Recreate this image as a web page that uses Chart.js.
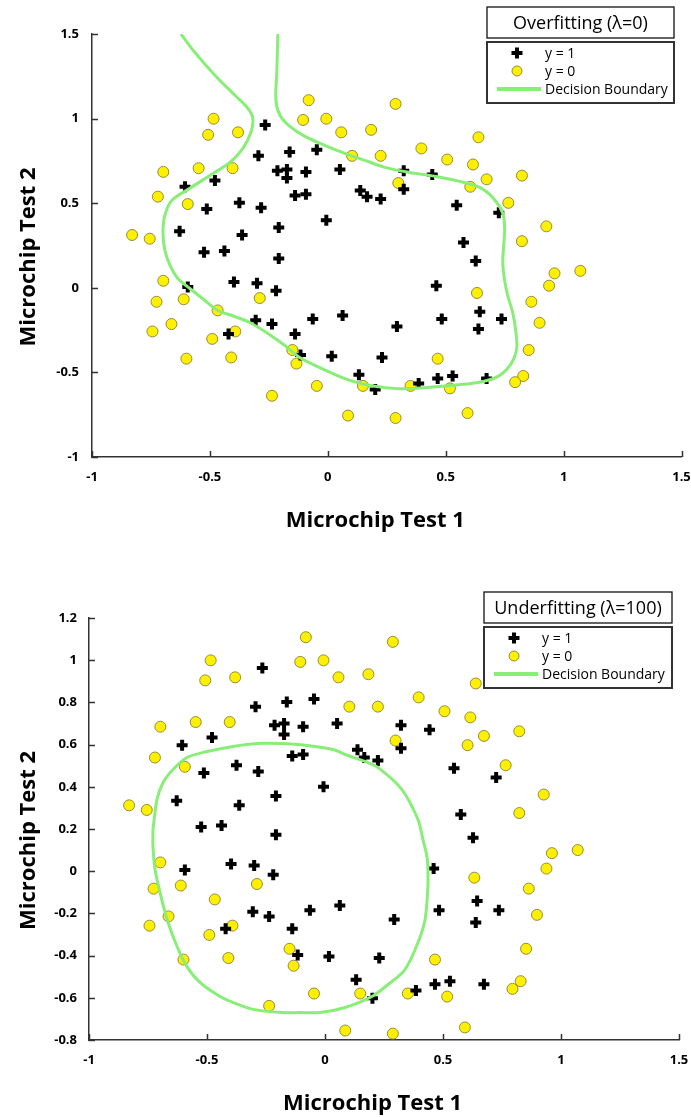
<!DOCTYPE html>
<html>
<head>
<meta charset="utf-8">
<script src="https://cdn.jsdelivr.net/npm/chart.js@4.4.1/dist/chart.umd.min.js"></script>
<style>
  html, body { margin: 0; padding: 0; background: #fff; overflow: hidden; }
  #c1wrap { position: absolute; left: 0; top: 0; width: 691px; height: 560px; }
  #c2wrap { position: absolute; left: 0; top: 560px; width: 691px; height: 557px; }
</style>
</head>
<body>
<div id="c1wrap"><canvas id="c1"></canvas></div>
<div id="c2wrap"><canvas id="c2"></canvas></div>
<script>
// ---------------- DATA ----------------
const POS_X = [0.051267,-0.092742,-0.21371,-0.375,-0.51325,-0.52477,-0.39804,-0.30588,0.016705,0.13191,0.38537,0.52938,0.63882,0.73675,0.54666,0.322,0.16647,-0.046659,-0.17339,-0.47869,-0.60541,-0.62846,-0.59389,-0.42108,-0.11578,0.20104,0.46601,0.67339,-0.13882,-0.29435,-0.26555,-0.16187,-0.17339,-0.28283,-0.36348,-0.30012,-0.23675,-0.06394,0.062788,0.22984,0.2932,0.48329,0.64459,0.46025,0.6273,0.57546,0.72523,0.22408,0.44297,0.322,0.13767,-0.0063364,-0.092742,-0.20795,-0.20795,-0.43836,-0.21947,-0.13882];
const POS_Y = [0.69956,0.68494,0.69225,0.50219,0.46564,0.2098,0.034357,-0.19225,-0.40424,-0.51389,-0.56506,-0.5212,-0.24342,-0.18494,0.48757,0.5826,0.53874,0.81652,0.69956,0.63377,0.59722,0.33406,0.005117,-0.27266,-0.39693,-0.60161,-0.53582,-0.53582,0.54605,0.77997,0.96272,0.8019,0.64839,0.47295,0.31213,0.027047,-0.21418,-0.18494,-0.16301,-0.41155,-0.2288,-0.18494,-0.14108,0.012427,0.15863,0.26827,0.44371,0.52412,0.67032,0.69225,0.57529,0.39985,0.55336,0.35599,0.17325,0.21711,-0.016813,-0.27266];
const NEG_X = [0.18376,0.22408,0.29896,0.50634,0.61578,0.60426,0.76555,0.92684,0.82316,0.96141,0.93836,0.86348,0.89804,0.85196,0.82892,0.79435,0.59274,0.51786,0.46601,0.35081,0.28744,0.085829,0.14919,-0.13306,-0.40956,-0.39228,-0.74366,-0.69758,-0.75518,-0.69758,-0.4038,-0.38076,-0.50749,-0.54781,0.10311,0.057028,-0.10484,-0.081221,0.28744,0.39689,0.63882,0.82316,0.67339,1.0709,-0.046659,-0.23675,-0.15035,-0.49021,-0.46717,-0.28859,-0.61118,-0.66302,-0.59965,-0.72638,-0.83007,-0.72062,-0.59389,-0.48445,-0.0063364,0.63265];
const NEG_Y = [0.93348,0.77997,0.61915,0.75804,0.7288,0.59722,0.50219,0.3633,0.27558,0.085526,0.012427,-0.082602,-0.20687,-0.36769,-0.5212,-0.55775,-0.7405,-0.5943,-0.41886,-0.57968,-0.76974,-0.75512,-0.57968,-0.4481,-0.41155,-0.25804,-0.25804,0.041667,0.2902,0.68494,0.70687,0.91886,0.90424,0.70687,0.77997,0.91886,0.99196,1.1089,1.087,0.82383,0.88962,0.66301,0.64108,0.10015,-0.57968,-0.63816,-0.36769,-0.3019,-0.13377,-0.060673,-0.067982,-0.21418,-0.41886,-0.082602,0.31213,0.53874,0.49488,0.99927,0.99927,-0.030612];

// Decision boundary, overfitting (lambda = 0)
const B1_X = [-0.623,-0.564,-0.479,-0.394,-0.339,-0.318,-0.326,-0.360,-0.415,-0.500,-0.585,-0.661,-0.691,-0.699,-0.691,-0.669,-0.636,-0.585,-0.521,-0.466,-0.394,-0.331,-0.254,-0.182,-0.119,-0.034,0.072,0.157,0.242,0.305,0.411,0.517,0.636,0.720,0.775,0.801,0.797,0.784,0.763,0.750,0.742,0.746,0.750,0.742,0.703,0.644,0.559,0.453,0.347,0.242,0.157,0.072,-0.013,-0.097,-0.161,-0.203,-0.220,-0.216,-0.212];
const B1_Y = [1.5,1.392,1.256,1.138,1.061,1.002,0.919,0.824,0.741,0.664,0.588,0.517,0.428,0.327,0.221,0.132,0.055,-0.004,-0.075,-0.134,-0.170,-0.205,-0.270,-0.341,-0.412,-0.472,-0.537,-0.572,-0.590,-0.596,-0.590,-0.578,-0.560,-0.525,-0.454,-0.359,-0.253,-0.146,-0.046,0.043,0.150,0.250,0.351,0.440,0.528,0.593,0.629,0.659,0.682,0.712,0.753,0.795,0.842,0.895,0.954,1.020,1.108,1.286,1.5];

// Decision boundary, underfitting (lambda = 100)
const B2_X = [-0.729,-0.712,-0.686,-0.644,-0.585,-0.500,-0.390,-0.288,-0.191,-0.076,0.034,0.085,0.169,0.225,0.326,0.394,0.415,0.432,0.436,0.436,0.424,0.394,0.339,0.267,0.199,0.085,-0.021,-0.106,-0.182,-0.305,-0.390,-0.445,-0.530,-0.585,-0.627,-0.669,-0.699,-0.720,-0.729,-0.729];
const B2_Y = [0.198,0.340,0.420,0.482,0.539,0.567,0.591,0.605,0.605,0.596,0.577,0.553,0.520,0.491,0.387,0.245,0.150,0.070,0.008,-0.073,-0.229,-0.338,-0.466,-0.537,-0.594,-0.646,-0.670,-0.670,-0.670,-0.655,-0.622,-0.594,-0.527,-0.452,-0.357,-0.229,-0.101,0.008,0.117,0.198];

const X_TICKS = [-1, -0.5, 0, 0.5, 1, 1.5];
const Y1_TICKS = [-1, -0.5, 0, 0.5, 1, 1.5];
const Y2_TICKS = [-0.8, -0.6, -0.4, -0.2, 0, 0.2, 0.4, 0.6, 0.8, 1, 1.2];

const X_TITLE = 'Microchip Test 1';
const Y_TITLE = 'Microchip Test 2';
const TITLE1 = 'Overfitting (λ=0)';
const TITLE2 = 'Underfitting (λ=100)';
const LEGEND_LABELS = ['y = 1', 'y = 0', 'Decision Boundary'];

// ---------------- STYLE ----------------
const GREEN = '#88EE77';
const YELLOW = '#FFF000';
const YELLOW_EDGE = '#938C3A';
const AXIS = '#333333';
const FONT = "'Open Sans', 'DejaVu Sans', sans-serif";
const TITLE_SHIFT = '    '; // nudges axis titles toward the origin, as in the reference

const zip = (xs, ys) => xs.map((x, i) => ({ x: x, y: ys[i] }));

function drawCross(ctx, x, y, r, w) {
  ctx.save();
  ctx.strokeStyle = '#000';
  ctx.lineWidth = w;
  ctx.beginPath();
  ctx.moveTo(x - r, y); ctx.lineTo(x + r, y);
  ctx.moveTo(x, y - r); ctx.lineTo(x, y + r);
  ctx.stroke();
  ctx.restore();
}

function decorPlugin(cfg) {
  return {
    id: 'decor',
    afterDraw(chart) {
      const ctx = chart.ctx;
      const xs = chart.scales.x, ys = chart.scales.y;
      // inward tick marks
      ctx.save();
      ctx.strokeStyle = AXIS;
      ctx.lineWidth = 1.5;
      ctx.beginPath();
      xs.ticks.forEach(t => {
        const px = Math.round(xs.getPixelForValue(t.value)) + 0.5;
        ctx.moveTo(px, xs.top); ctx.lineTo(px, xs.top - 6);
      });
      ys.ticks.forEach(t => {
        const py = Math.round(ys.getPixelForValue(t.value)) + 0.5;
        ctx.moveTo(ys.right, py); ctx.lineTo(ys.right + 6, py);
      });
      ctx.stroke();
      ctx.restore();

      // title box
      const L = cfg.legend;
      ctx.save();
      ctx.strokeStyle = '#111';
      ctx.lineWidth = 1.3;
      ctx.strokeRect(L.x, L.titleTop, L.w, L.titleH);
      ctx.fillStyle = '#000';
      ctx.font = "18px " + FONT;
      ctx.textAlign = 'center';
      ctx.textBaseline = 'middle';
      ctx.fillText(cfg.title, L.x + L.w / 2, L.titleTop + L.titleH / 2 + 1);

      // legend box
      ctx.strokeStyle = '#333';
      ctx.lineWidth = 2;
      ctx.strokeRect(L.x, L.boxTop, L.w, L.boxH);
      ctx.font = "14px " + FONT;
      ctx.textAlign = 'left';
      const mx = L.x + 30, tx = L.x + 58;
      const rows = [L.boxTop + 11, L.boxTop + 29, L.boxTop + 47];
      drawCross(ctx, mx, rows[0], 5.5, 4);
      ctx.beginPath();
      ctx.arc(mx, rows[1], 5, 0, Math.PI * 2);
      ctx.fillStyle = YELLOW; ctx.fill();
      ctx.strokeStyle = YELLOW_EDGE; ctx.lineWidth = 1; ctx.stroke();
      ctx.strokeStyle = GREEN; ctx.lineWidth = 4;
      ctx.beginPath();
      ctx.moveTo(L.x + 10, rows[2]); ctx.lineTo(L.x + 54, rows[2]);
      ctx.stroke();
      ctx.fillStyle = '#000';
      LEGEND_LABELS.forEach((s, i) => ctx.fillText(s, tx, rows[i] + 1));
      ctx.restore();
    }
  };
}

function makeChart(id, cfg) {
  return new Chart(document.getElementById(id), {
    type: 'scatter',
    data: {
      datasets: [
        {
          label: 'Decision Boundary',
          data: zip(cfg.bx, cfg.by),
          showLine: true,
          borderColor: GREEN,
          borderWidth: 3,
          pointRadius: 0,
          tension: 0.3,
          fill: false
        },
        {
          label: 'y = 1',
          data: zip(POS_X, POS_Y),
          pointStyle: 'cross',
          pointRadius: 5.5,
          borderColor: '#000',
          borderWidth: 4,
          backgroundColor: '#000'
        },
        {
          label: 'y = 0',
          data: zip(NEG_X, NEG_Y),
          pointStyle: 'circle',
          pointRadius: 5.5,
          backgroundColor: YELLOW,
          borderColor: YELLOW_EDGE,
          borderWidth: 1
        }
      ]
    },
    options: {
      responsive: true,
      maintainAspectRatio: false,
      animation: false,
      events: [],
      layout: { padding: cfg.padding },
      plugins: { legend: { display: false }, tooltip: { enabled: false }, title: { display: false } },
      scales: {
        x: {
          type: 'linear',
          min: X_TICKS[0], max: X_TICKS[X_TICKS.length - 1],
          afterBuildTicks: s => { s.ticks = X_TICKS.map(v => ({ value: v })); },
          afterFit: s => { s.height = cfg.xHeight; s.paddingLeft = 0; s.paddingRight = 0; },
          grid: { display: true, drawOnChartArea: false, drawTicks: false },
          border: { display: true, color: AXIS, width: 1.5 },
          ticks: { padding: cfg.xTickPad, color: '#000', font: { family: FONT, size: 13, weight: 'bold' }, callback: v => String(v), maxRotation: 0 },
          title: { display: true, text: X_TITLE + TITLE_SHIFT, color: '#000', font: { family: FONT, size: 22, weight: 'bold' }, padding: { top: 0, bottom: cfg.xTitlePad } }
        },
        y: {
          type: 'linear',
          min: cfg.yTicks[0], max: cfg.yTicks[cfg.yTicks.length - 1],
          afterBuildTicks: s => { s.ticks = cfg.yTicks.map(v => ({ value: v })); },
          afterFit: s => { s.width = cfg.yWidth; s.paddingTop = 0; s.paddingBottom = 0; },
          grid: { display: true, drawOnChartArea: false, drawTicks: false },
          border: { display: true, color: AXIS, width: 1.5 },
          ticks: { padding: cfg.yTickPad, color: '#000', font: { family: FONT, size: 13, weight: 'bold' }, callback: v => String(v) },
          title: { display: true, text: Y_TITLE + TITLE_SHIFT, color: '#000', font: { family: FONT, size: 22, weight: 'bold' }, padding: { top: cfg.yTitlePad, bottom: 0 } }
        }
      }
    },
    plugins: [decorPlugin(cfg)]
  });
}

makeChart('c1', {
  bx: B1_X, by: B1_Y, yTicks: Y1_TICKS,
  padding: { top: 34, right: 9, left: 0, bottom: 0 },
  yWidth: 92, xHeight: 103, xTickPad: 12, yTickPad: 13,
  xTitlePad: 26, yTitlePad: 16,
  title: TITLE1,
  legend: { x: 487, w: 187, titleTop: 7, titleH: 31, boxTop: 42, boxH: 61 }
});

makeChart('c2', {
  bx: B2_X, by: B2_Y, yTicks: Y2_TICKS,
  padding: { top: 58, right: 12, left: 0, bottom: 0 },
  yWidth: 89, xHeight: 77, xTickPad: 12, yTickPad: 12,
  xTitlePad: 0, yTitlePad: 16,
  title: TITLE2,
  legend: { x: 484, w: 188, titleTop: 32, titleH: 31, boxTop: 67, boxH: 61 }
});
</script>
</body>
</html>
